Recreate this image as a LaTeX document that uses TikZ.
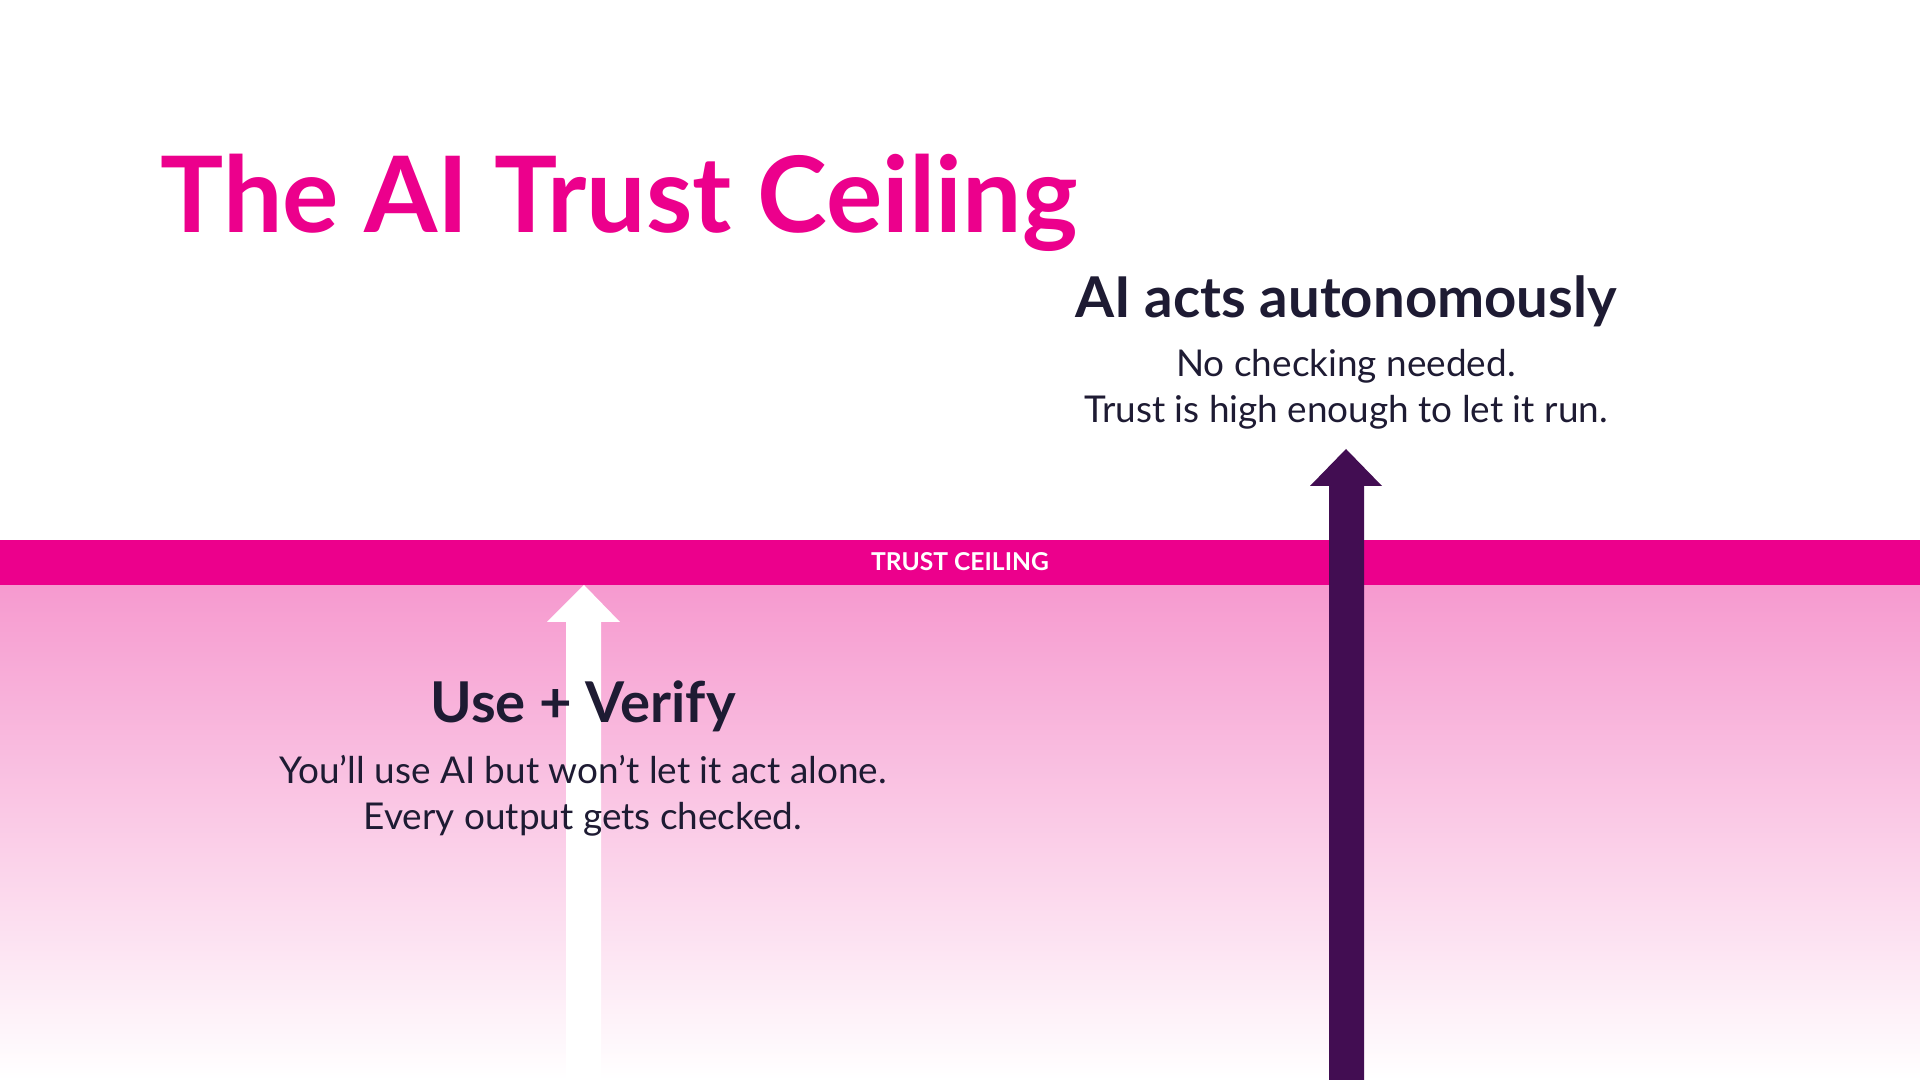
\documentclass[tikz,border=0pt]{standalone}
\usepackage{fontspec}
\setmainfont{Lato}
\definecolor{mag}{HTML}{EC008C}
\definecolor{pinkA}{HTML}{F69ACF}
\definecolor{ink}{HTML}{1E1B33}
\definecolor{plum}{HTML}{420D52}
\begin{document}
\begin{tikzpicture}[x=0.01cm,y=-0.01cm,
  head/.style={font=\fontsize{16}{19}\selectfont\bfseries,text=ink,anchor=base},
  sub/.style={font=\fontsize{10.5}{13}\selectfont,text=ink,align=center,anchor=north}]
\useasboundingbox (0,0) rectangle (1920,1080);
\fill[white] (0,0) rectangle (1920,1080);
\shade[top color=pinkA,bottom color=white] (0,585) rectangle (1920,1080);
\fill[mag] (0,540) rectangle (1920,585);
\node[font=\fontsize{7}{8}\selectfont\bfseries,text=white] (tc) at (960,562) {TRUST CEILING};
\node[font=\fontsize{30}{34}\selectfont\bfseries,text=mag,anchor=base west,inner sep=0] (title) at (160,233) {The AI Trust Ceiling};
% purple arrow
\fill[plum] (1329,1080) -- (1329,486) -- (1310,486) -- (1346,449) -- (1382,486) -- (1364,486) -- (1364,1080) -- cycle;
% white arrow
\fill[white] (566,1080) -- (566,622) -- (547,622) -- (584,585) -- (620,622) -- (601,622) -- (601,1080) -- cycle;
\node[head] (ah) at (1346,318) {AI acts autonomously};
\node[sub] (as) at (1346,337) {No checking needed.\\Trust is high enough to let it run.};
\node[head] (uh) at (583,723) {Use + Verify};
\node[sub] (us) at (583,743) {You'll use AI but won't let it act alone.\\Every output gets checked.};
\end{tikzpicture}
\end{document}
